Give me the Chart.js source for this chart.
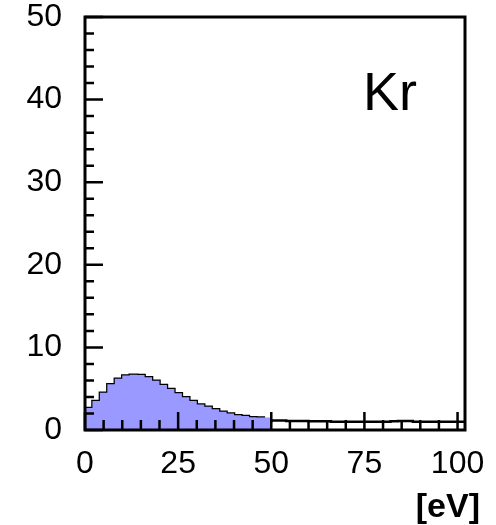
<!DOCTYPE html>
<html>
<head>
<meta charset="utf-8">
<script src="https://cdn.jsdelivr.net/npm/chart.js@4/dist/chart.umd.min.js"></script>
<style>
  body { margin: 0; background: #fff; }
</style>
</head>
<body>
<canvas id="myChart" width="496" height="525"></canvas>
<script>
// energy histogram, 2 eV bins from 0 to 102 eV
var binWidth = 2;
var counts = [
  2.0, 2.65, 3.5, 4.5, 5.55, 6.2, 6.6, 6.7, 6.65, 6.4,
  5.95, 5.45, 4.95, 4.45, 3.95, 3.5, 3.1, 2.8, 2.5, 2.2,
  2.0, 1.8, 1.7, 1.55, 1.5,
  1.1, 1.15, 1.15, 1.1, 1.1, 1.1, 1.05, 1.05, 1.05, 1.0,
  1.0, 1.0, 1.0, 1.0, 1.0, 1.0, 1.0, 1.05, 1.1, 1.1,
  1.0, 1.0, 1.0, 1.0, 1.0, 1.0
];
var fillUpTo = 50;          // bins below this energy are shaded
var xLabels = [0, 25, 50, 75, 100];
var yLabels = [0, 10, 20, 30, 40, 50];
var xMinorStep = 5;
var yMinorStep = 2;

var fontFamily = '"Liberation Sans", Arial, Helvetica, sans-serif';

// stepped outline points: one per bin edge, last value repeated at the end
function stepPoints(maxEdge) {
  var pts = [];
  for (var i = 0; i < counts.length; i++) {
    var lo = i * binWidth;
    if (lo >= maxEdge) break;
    pts.push({x: lo, y: counts[i]});
  }
  var last = pts[pts.length - 1];
  pts.push({x: Math.min(maxEdge, counts.length * binWidth), y: last.y});
  return pts;
}

var outline = stepPoints(Infinity);
var shaded = stepPoints(fillUpTo);

// inward ticks, frame and text labels drawn on top of the histogram
var histFrame = {
  id: 'histFrame',
  afterDatasetsDraw: function(chart) {
    var ctx = chart.ctx, a = chart.chartArea;
    var x = chart.scales.x, y = chart.scales.y;
    ctx.save();
    ctx.strokeStyle = '#000';
    ctx.lineWidth = 2.5;
    ctx.beginPath();
    for (var v = x.min; v <= 100; v += xMinorStep) {
      var px = x.getPixelForValue(v);
      var len = xLabels.indexOf(v) >= 0 ? 18 : 10;
      ctx.moveTo(px, a.bottom);
      ctx.lineTo(px, a.bottom - len);
    }
    for (var w = y.min; w <= y.max; w += yMinorStep) {
      var py = y.getPixelForValue(w);
      var l2 = yLabels.indexOf(w) >= 0 ? 18 : 9;
      ctx.moveTo(a.left, py);
      ctx.lineTo(a.left + l2, py);
    }
    ctx.stroke();
    ctx.lineWidth = 3;
    ctx.strokeRect(a.left, a.top, a.right - a.left, a.bottom - a.top);

    ctx.fillStyle = '#000';
    ctx.textBaseline = 'alphabetic';
    ctx.textAlign = 'left';
    ctx.font = '54px ' + fontFamily;
    ctx.fillText('Kr', a.left + 278, a.top + 93);
    ctx.textAlign = 'right';
    ctx.font = 'bold 34px ' + fontFamily;
    ctx.fillText('[eV]', a.right + 15, a.bottom + 87);
    ctx.restore();
  }
};

var ctx = document.getElementById('myChart').getContext('2d');
var chart = new Chart(ctx, {
  type: 'line',
  data: {
    datasets: [{
      data: shaded,
      stepped: 'after',
      borderWidth: 0,
      borderColor: 'rgba(0,0,0,0)',
      backgroundColor: 'rgb(153,153,255)',
      fill: 'origin',
      pointRadius: 0
    }, {
      data: outline,
      stepped: 'after',
      borderWidth: 2.5,
      borderColor: '#000',
      fill: false,
      pointRadius: 0
    }]
  },
  options: {
    responsive: false,
    animation: false,
    devicePixelRatio: 1,
    layout: { padding: { left: 0, top: 17, right: 31, bottom: 0 } },
    plugins: {
      legend: { display: false },
      tooltip: { enabled: false }
    },
    scales: {
      x: {
        type: 'linear',
        min: 0,
        max: 102,
        grid: { display: false },
        border: { display: false },
        ticks: {
          color: '#000',
          font: { family: fontFamily, size: 32 },
          padding: 7,
          maxRotation: 0,
          autoSkip: false
        },
        afterBuildTicks: function(scale) {
          scale.ticks = xLabels.map(function(v) { return {value: v}; });
        },
        afterFit: function(scale) {
          scale.height = 95;
          scale.paddingLeft = 0;
          scale.paddingRight = 0;
        }
      },
      y: {
        min: 0,
        max: 50,
        grid: { display: false },
        border: { display: false },
        ticks: {
          color: '#000',
          font: { family: fontFamily, size: 32 },
          padding: 15,
          autoSkip: false
        },
        afterBuildTicks: function(scale) {
          scale.ticks = yLabels.map(function(v) { return {value: v}; });
        },
        afterFit: function(scale) {
          scale.width = 85;
          scale.paddingTop = 0;
          scale.paddingBottom = 0;
        }
      }
    }
  },
  plugins: [histFrame]
});
</script>
</body>
</html>
